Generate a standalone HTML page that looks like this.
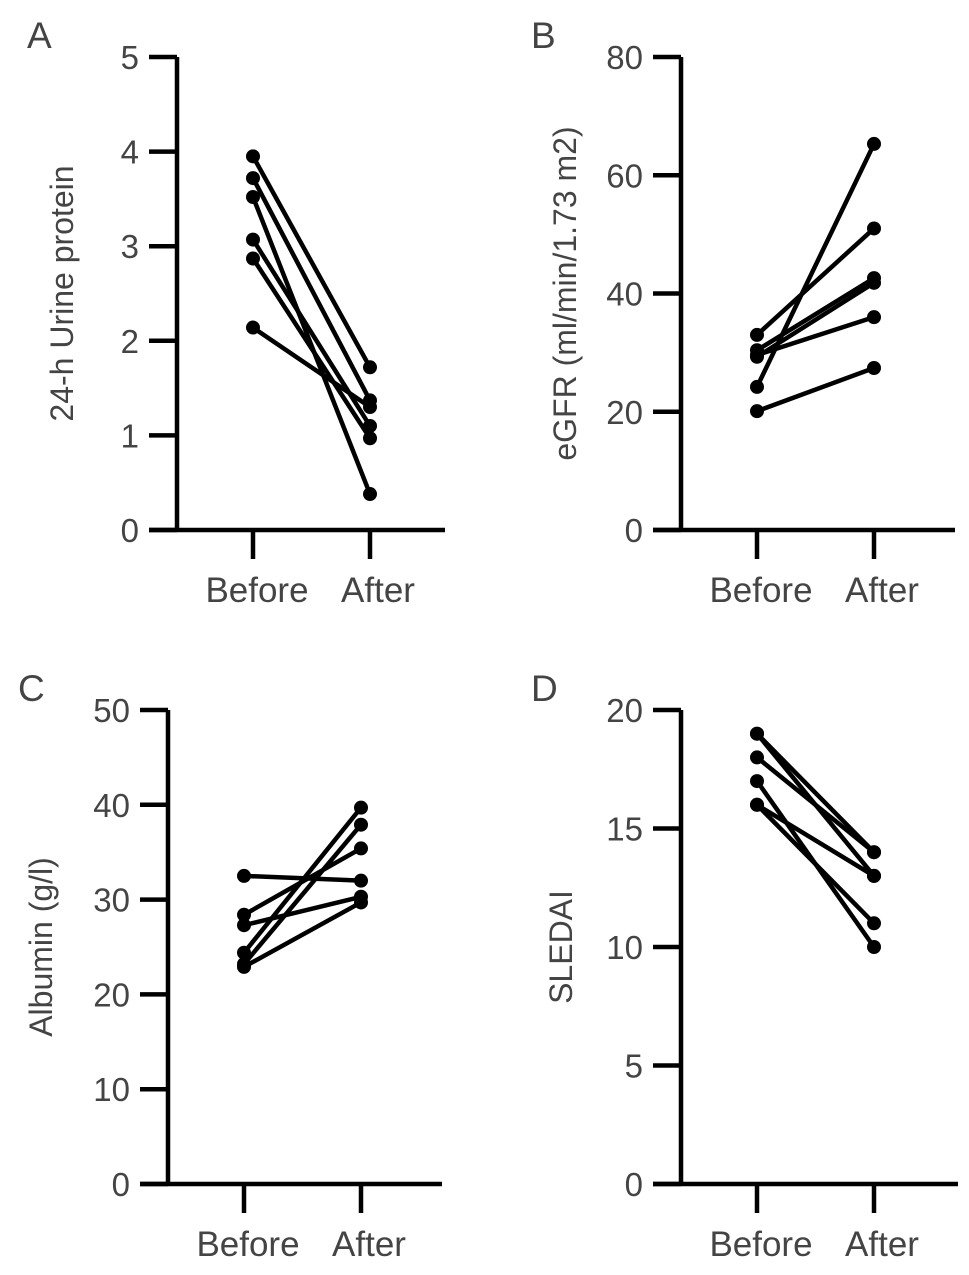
<!DOCTYPE html>
<html><head><meta charset="utf-8"><style>
body{margin:0;background:#fff}
svg text{font-family:"Liberation Sans",sans-serif;fill:#444}
</style></head><body>
<svg id="c" width="969" height="1270" xmlns="http://www.w3.org/2000/svg"></svg>
<script>
const groups=["Before","After"];
const aBefore=[3.95,3.72,3.52,3.07,2.87,2.14];
const aAfter=[1.72,1.37,0.38,1.10,0.97,1.30];
const bBefore=[33.0,24.2,30.4,29.3,29.6,20.1];
const bAfter=[51.0,65.3,42.6,41.8,36.0,27.4];
const cBefore=[32.5,28.4,27.3,24.4,23.2,22.9];
const cAfter=[32.0,35.4,30.3,39.7,37.9,29.7];
const dBefore=[19,18,19,16,17,16];
const dAfter=[14,14,13,13,10,11];
const aTicks=[0,1,2,3,4,5], bTicks=[0,20,40,60,80], cTicks=[0,10,20,30,40,50], dTicks=[0,5,10,15,20];
const NS="http://www.w3.org/2000/svg", svg=document.getElementById('c');
function mk(t,a,p){const e=document.createElementNS(NS,t);for(const k in a)e.setAttribute(k,a[k]);(p||svg).appendChild(e);return e;}
function panel(o){
  const g=mk('g',{});
  
  
  const y=v=>o.y0-(v-o.min)/(o.max-o.min)*(o.y0-o.y1);
  const xs=[o.ax+76,o.ax+193];
  const L=mk('text',{x:o.ax-150,y:o.y1-9,'font-size':37},g);L.textContent=o.letter;
  
  
  const ya=mk('line',{x1:o.ax,y1:o.y1,x2:o.ax,y2:o.y0,stroke:'#000','stroke-width':4.5},g);
  
  
  const xa=mk('line',{x1:o.ax-28,y1:o.y0,x2:o.xend,y2:o.y0,stroke:'#000','stroke-width':4.5},g);
  
  
  o.ticks.forEach(t=>{
    mk('line',{x1:o.ax-28,y1:y(t),x2:o.ax,y2:y(t),stroke:'#000','stroke-width':4.5},g);
    const tx=mk('text',{x:o.ax-38,y:y(t)+12,'font-size':33,'text-anchor':'end'},g);tx.textContent=t;
    
    
  });
  groups.forEach((gname,i)=>{
    mk('line',{x1:xs[i],y1:o.y0,x2:xs[i],y2:o.y0+29,stroke:'#000','stroke-width':4.5},g);
    const tx=mk('text',{x:xs[i]+(i?8:4),y:o.y0+72,'font-size':35,'text-anchor':'middle'},g);tx.textContent=gname;
    
    
  });
  const yt=mk('text',{x:0,y:0,'font-size':32,'text-anchor':'middle',transform:`translate(${o.tx},${(o.y0+o.y1)/2}) rotate(-90)`},g);
  yt.textContent=o.title;
  
  
  o.b.forEach((bv,i)=>{
    const ln=mk('line',{x1:xs[0],y1:y(bv),x2:xs[1],y2:y(o.a[i]),stroke:'#000','stroke-width':4.5},g);
    
    
    [[xs[0],bv],[xs[1],o.a[i]]].forEach(p=>{
      const c=mk('circle',{cx:p[0],cy:y(p[1]),r:7,fill:'#000'},g);
      
      
    });
  });
}
panel({letter:'A',ax:177,y0:530,y1:57,min:0,max:5,xend:445,ticks:aTicks,b:aBefore,a:aAfter,title:'24-h Urine protein',tx:73});
panel({letter:'B',ax:681,y0:530,y1:57,min:0,max:80,xend:955,ticks:bTicks,b:bBefore,a:bAfter,title:'eGFR (ml/min/1.73 m2)',tx:576});
panel({letter:'C',ax:168,y0:1184,y1:710,min:0,max:50,xend:442,ticks:cTicks,b:cBefore,a:cAfter,title:'Albumin (g/l)',tx:52});
panel({letter:'D',ax:681,y0:1184,y1:710,min:0,max:20,xend:958,ticks:dTicks,b:dBefore,a:dAfter,title:'SLEDAI',tx:572});
</script>
</body></html>
